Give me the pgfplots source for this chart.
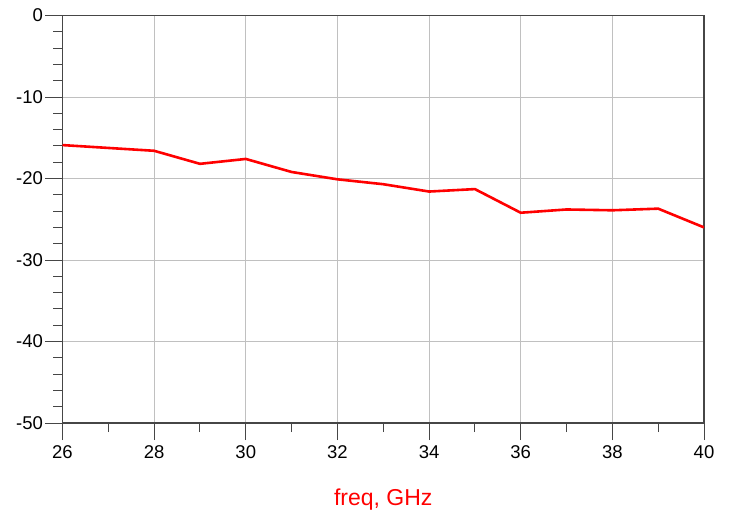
\documentclass[border=0pt]{standalone}
\usepackage{fontspec}
\setmainfont{Liberation Sans}
\usepackage{pgfplots}
\pgfplotsset{compat=1.18}

\definecolor{adsred}{RGB}{255,0,0}
\definecolor{axgray}{RGB}{70,70,70}
\definecolor{gridgray}{RGB}{192,192,192}

\begin{document}
\begin{tikzpicture}
\begin{axis}[
    scale only axis,
    width=641.5pt, height=407.5pt,
    xmin=26, xmax=40,
    ymin=-50, ymax=0,
    xtick={26,28,...,40},
    ytick={-50,-40,...,0},
    minor x tick num=1,
    minor y tick num=4,
    xtick pos=bottom, ytick pos=left,
    tick align=outside,
    major tick length=17pt,
    minor tick length=9pt,
    tick style={axgray, line width=1pt},
    axis line style={axgray, line width=1.2pt},
    grid=major,
    major grid style={gridgray, line width=1pt},
    /pgf/number format/assume math mode=true,
    ticklabel style={font=\fontsize{18.5}{20}\selectfont, black},
    yticklabel style={xshift=1pt},
    xticklabel style={yshift=-2pt},
    xlabel={freq, GHz},
    xlabel style={at={(axis description cs:0.5,0)}, anchor=base, yshift=-82pt,
        font=\fontsize{23}{25}\selectfont, text=adsred},
]
\addplot[adsred, line width=2.6pt] coordinates {
    (26,-15.9) (28,-16.6) (29,-18.2) (30,-17.6) (31,-19.2) (32,-20.1)
    (33,-20.7) (34,-21.6) (35,-21.3) (36,-24.2) (37,-23.8) (38,-23.9)
    (39,-23.7) (40,-26.0)
};
\end{axis}
\pgfresetboundingbox
\path (-62.5pt,-86pt) rectangle (668.5pt,423pt);
\end{tikzpicture}
\end{document}
